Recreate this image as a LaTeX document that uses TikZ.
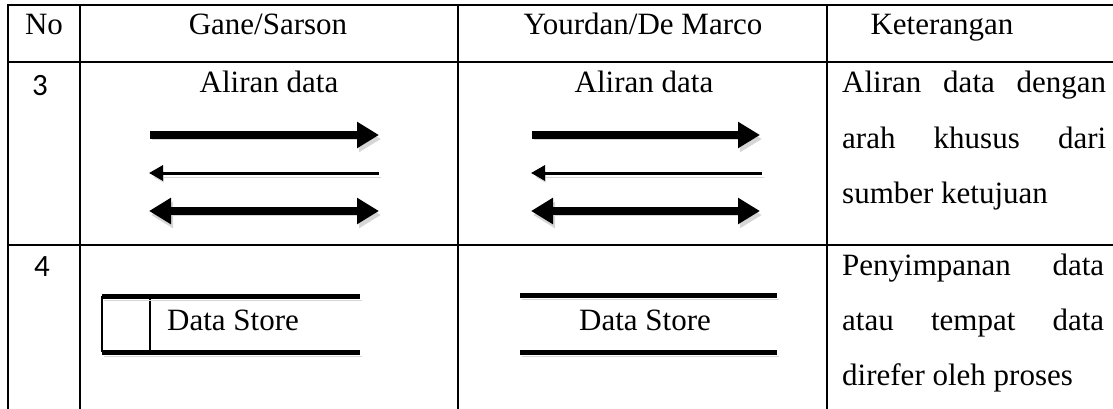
\documentclass[tikz,border=0pt]{standalone}
\usepackage{fontspec}
\setmainfont{Liberation Serif}
\newfontfamily\carlito{Carlito}
\usetikzlibrary{arrows.meta}
\begin{document}
\begin{tikzpicture}[x=1pt,y=-1pt,
  grid/.style={line width=2pt,line cap=rect},
  txt/.style={anchor=base,inner sep=0pt,font=\fontsize{31}{37}\selectfont},
  txtw/.style={anchor=base west,inner sep=0pt,font=\fontsize{31}{37}\selectfont},
  num/.style={anchor=base,inner sep=0pt,font=\carlito\fontsize{31}{36}\selectfont},
  sh/.style={preaction={draw=black!16,transform canvas={shift={(2pt,-4pt)}}}},
  bigflow/.style={sh,line width=8pt,-{Triangle[length=22pt,width=25pt]}},
  bothflow/.style={sh,line width=8pt,{Triangle[length=22pt,width=25pt]}-{Triangle[length=22pt,width=25pt]}},
  thinflow/.style={sh,line width=3pt,{Triangle[length=14pt,width=15pt]}-},
  storeline/.style={sh,line width=5pt},
  storethin/.style={line width=1.2pt}
]
\useasboundingbox (0,0) rectangle (1113,409);
% table grid
\draw[grid] (8,5) -- (1113,5);
\draw[grid] (8,62) -- (1113,62);
\draw[grid] (8,245) -- (1113,245);
\draw[grid] (8,5) -- (8,409);
\draw[grid] (80,5) -- (80,409);
\draw[grid] (458,5) -- (458,409);
\draw[grid] (827,5) -- (827,409);
% header
\node[txt] (hno) at (44,35) {No};
\node[txt] (hgs) at (268,35) {Gane/Sarson};
\node[txt] (hyd) at (643,35) {Yourdan/De Marco};
\node[txt] (hket) at (942,35) {Keterangan};
% row 3
\node[num] (n3) at (40,96) {3};
\node[txt] (ad1) at (269,93) {Aliran data};
\node[txt] (ad2) at (644,93) {Aliran data};
\node[txtw] (k31) at (842,93) {\makebox[264pt][s]{Aliran data dengan}};
\node[txtw] (k32) at (842,148) {\makebox[264pt][s]{arah khusus dari}};
\node[txtw] (k33) at (842,203) {sumber ketujuan};
% Gane/Sarson arrows
\coordinate (ga1) at (150,135); \coordinate (gb1) at (379,135);
\coordinate (ga2) at (149,173); \coordinate (gb2) at (379,173);
\coordinate (ga3) at (149,211); \coordinate (gb3) at (379,211);
\draw[bigflow] (ga1) -- (gb1);
\draw[thinflow] (ga2) -- (gb2);
\draw[bothflow] (ga3) -- (gb3);
% Yourdan arrows
\coordinate (ya1) at (532,135); \coordinate (yb1) at (760,135);
\coordinate (ya2) at (531,173); \coordinate (yb2) at (762,173);
\coordinate (ya3) at (531,211); \coordinate (yb3) at (760,211);
\draw[bigflow] (ya1) -- (yb1);
\draw[thinflow] (ya2) -- (yb2);
\draw[bothflow] (ya3) -- (yb3);
% row 4
\node[num] (n4) at (42,276) {4};
% Gane/Sarson data store
\coordinate (gs1) at (102,296); \coordinate (gs2) at (360,296);
\coordinate (gs3) at (102,352); \coordinate (gs4) at (360,352);
\coordinate (gd1) at (150,296); \coordinate (gd2) at (150,352);
\draw[storethin] (gs1) -- (gs3);
\draw[storethin] (gd1) -- (gd2);
\draw[storeline] (gs1) -- (gs2);
\draw[storeline] (gs3) -- (gs4);
\node[txtw] (gst) at (167,330) {Data Store};
% Yourdan data store
\coordinate (ys1) at (520,295); \coordinate (ys2) at (777,295);
\coordinate (ys3) at (520,352); \coordinate (ys4) at (777,352);
\draw[storeline] (ys1) -- (ys2);
\draw[storeline] (ys3) -- (ys4);
\node[txt] (yst) at (645,330) {Data Store};
\node[txtw] (k41) at (842,275) {\makebox[262pt][s]{Penyimpanan data}};
\node[txtw] (k42) at (842,330) {\makebox[262pt][s]{atau tempat data}};
\node[txtw] (k43) at (842,385) {direfer oleh proses};
\end{tikzpicture}
\end{document}
